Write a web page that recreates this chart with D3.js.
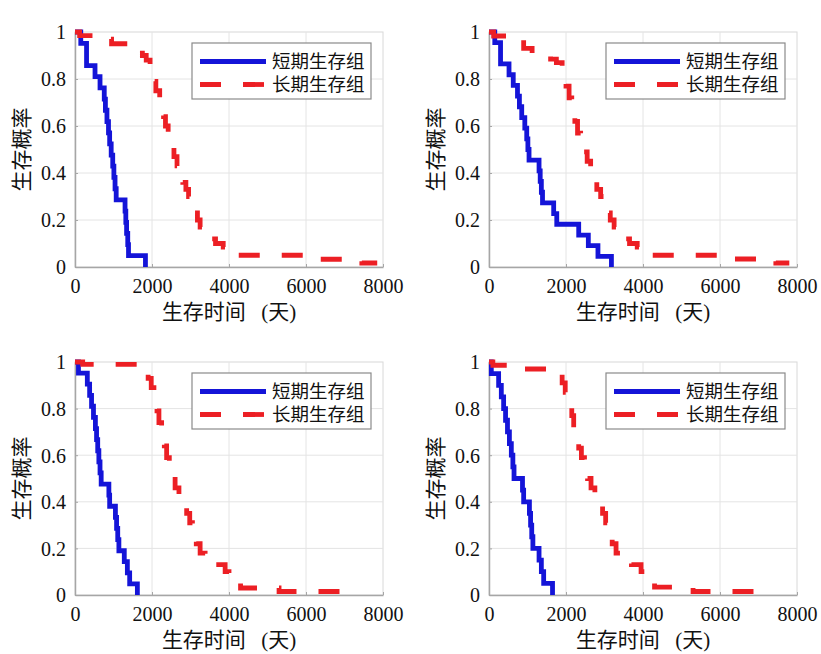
<!DOCTYPE html>
<html>
<head>
<meta charset="utf-8">
<script src="https://cdn.jsdelivr.net/npm/d3@7"></script>
<style>
  body { margin: 0; background: #fff; }
  svg { display: block; }
</style>
</head>
<body>
<svg id="chart" width="821" height="654"></svg>
<script>
// ---- axis ticks and labels ----
const xTicks = [0, 2000, 4000, 6000, 8000];
const yTicks = [0, 0.2, 0.4, 0.6, 0.8, 1];
const seriesNames = ["短期生存组", "长期生存组"];
const xTitleMain = "生存时间";
const xTitleUnit = "(天)";
const yTitle = "生存概率";

// ---- Kaplan-Meier steps: [days, survival]; a step holds until the next point ----
const shortA = [[0,1],[150,0.952],[300,0.857],[520,0.810],[650,0.762],[760,0.714],[790,0.667],
  [830,0.619],[870,0.571],[900,0.524],[940,0.476],[980,0.429],[1010,0.381],[1040,0.333],
  [1070,0.286],[1300,0.238],[1320,0.190],[1340,0.143],[1370,0.095],[1390,0.048],[1830,0]];
const longA = [[0,1],[120,0.985],[640,0.97],[950,0.95],[1520,0.93],[1750,0.90],[1850,0.88],
  [1950,0.84],[2050,0.79],[2100,0.75],[2200,0.70],[2300,0.64],[2350,0.60],[2420,0.55],
  [2500,0.51],[2570,0.47],[2650,0.43],[2720,0.40],[2800,0.36],[2880,0.33],[2950,0.30],
  [3020,0.27],[3100,0.23],[3180,0.20],[3250,0.17],[3330,0.15],[3450,0.12],[3650,0.10],
  [3850,0.085],[4050,0.07],[4250,0.05],[6300,0.033],[7450,0.017],[7850,0.017]];

const shortB = [[0,1],[150,0.955],[300,0.864],[520,0.818],[630,0.773],[740,0.727],[790,0.682],
  [850,0.636],[930,0.591],[980,0.545],[1010,0.5],[1040,0.455],[1300,0.409],[1330,0.364],
  [1360,0.318],[1390,0.273],[1680,0.227],[1760,0.182],[2330,0.136],[2580,0.091],[2830,0.045],[3180,0]];
const longB = [[0,1],[120,0.983],[620,0.967],[900,0.93],[1120,0.905],[1600,0.885],[1750,0.87],
  [1900,0.84],[2000,0.77],[2080,0.72],[2150,0.68],[2230,0.62],[2300,0.57],[2380,0.53],
  [2470,0.49],[2550,0.45],[2640,0.41],[2720,0.37],[2800,0.33],[2900,0.30],[2980,0.27],
  [3060,0.23],[3150,0.20],[3250,0.17],[3330,0.15],[3450,0.12],[3650,0.10],[3850,0.085],
  [4000,0.068],[4200,0.05],[6300,0.034],[7450,0.017],[7800,0.017]];

const shortC = [[0,1],[90,0.952],[320,0.905],[380,0.857],[430,0.810],[480,0.762],[530,0.714],
  [560,0.667],[590,0.619],[620,0.571],[650,0.524],[680,0.476],[880,0.429],[900,0.381],
  [1050,0.333],[1080,0.286],[1110,0.238],[1140,0.190],[1280,0.143],[1360,0.095],[1420,0.048],[1620,0]];
const longC = [[0,1],[200,0.99],[1780,0.975],[1900,0.93],[1980,0.89],[2050,0.85],[2130,0.79],
  [2180,0.74],[2250,0.70],[2320,0.64],[2380,0.59],[2450,0.55],[2520,0.51],[2600,0.46],
  [2700,0.43],[2800,0.40],[2900,0.35],[2980,0.31],[3050,0.27],[3150,0.22],[3250,0.18],
  [3380,0.15],[3600,0.13],[3900,0.10],[4000,0.07],[4300,0.03],[5300,0.015],[7100,0.015]];

const shortD = [[0,1],[60,0.95],[250,0.90],[320,0.85],[380,0.80],[430,0.75],[480,0.70],
  [530,0.65],[580,0.60],[620,0.55],[650,0.50],[870,0.45],[900,0.40],[1050,0.35],[1080,0.30],
  [1110,0.25],[1140,0.20],[1300,0.15],[1360,0.10],[1420,0.05],[1650,0]];
const longD = [[0,1],[100,0.986],[700,0.97],[1750,0.955],[1900,0.91],[1980,0.87],[2080,0.83],
  [2150,0.77],[2200,0.73],[2270,0.68],[2330,0.63],[2400,0.59],[2480,0.55],[2560,0.50],
  [2650,0.46],[2750,0.43],[2870,0.40],[2950,0.35],[3030,0.31],[3120,0.27],[3200,0.22],
  [3300,0.18],[3450,0.15],[3700,0.13],[3950,0.10],[4050,0.07],[4300,0.034],[5300,0.015],[7150,0.015]];

// ---- panel frames ----
const panels = [
  { left: 75,  top: 32,  width: 308, height: 235, short: shortA, long: longA },
  { left: 489, top: 32,  width: 308, height: 235, short: shortB, long: longB },
  { left: 75,  top: 362, width: 308, height: 233, short: shortC, long: longC },
  { left: 489, top: 362, width: 308, height: 233, short: shortD, long: longD }
];

const colors = { short: "#1414d8", long: "#ec1f24" };
const numFont = "Liberation Serif, Times New Roman, serif";
const cjkFont = "Noto Sans CJK SC, Noto Sans, sans-serif";

const svg = d3.select("#chart");

panels.forEach(p => {
  const x = d3.scaleLinear().domain([0, 8000]).range([p.left, p.left + p.width]);
  const y = d3.scaleLinear().domain([0, 1]).range([p.top + p.height, p.top]);
  const g = svg.append("g");

  // background and grid
  g.append("rect").attr("x", p.left).attr("y", p.top)
    .attr("width", p.width).attr("height", p.height)
    .attr("fill", "#fff").attr("stroke", "#d8d8d8").attr("stroke-width", 1);

  g.append("g").selectAll("line").data(xTicks.slice(1, -1)).join("line")
    .attr("x1", d => x(d)).attr("x2", d => x(d))
    .attr("y1", p.top).attr("y2", p.top + p.height)
    .attr("stroke", "#e4e4e4").attr("stroke-width", 1);
  g.append("g").selectAll("line").data(yTicks.slice(1, -1)).join("line")
    .attr("x1", p.left).attr("x2", p.left + p.width)
    .attr("y1", d => y(d)).attr("y2", d => y(d))
    .attr("stroke", "#e4e4e4").attr("stroke-width", 1);

  // axes
  const xAxis = g.append("g")
    .attr("transform", `translate(0,${p.top + p.height})`)
    .call(d3.axisBottom(x).tickValues(xTicks).tickSizeInner(-3).tickSizeOuter(0).tickPadding(12)
      .tickFormat(d3.format("d")));
  const yAxis = g.append("g")
    .attr("transform", `translate(${p.left},0)`)
    .call(d3.axisLeft(y).tickValues(yTicks).tickSizeInner(-3).tickSizeOuter(0).tickPadding(9)
      .tickFormat(d => d === 0 || d === 1 ? String(d) : d3.format(".1f")(d)));

  [xAxis, yAxis].forEach(a => {
    a.attr("font-family", numFont).attr("font-size", 20);
    a.select(".domain").attr("stroke", "#a6a6a6").attr("stroke-width", 1.5);
    a.selectAll(".tick line").attr("stroke", "#a6a6a6");
    a.selectAll(".tick text").attr("fill", "#111").attr("font-family", numFont);
  });
  xAxis.selectAll(".tick text").attr("dy", "0.72em");
  yAxis.selectAll(".tick text").attr("dy", "0.34em");

  // axis titles
  const xt = g.append("text")
    .attr("x", p.left + p.width / 2).attr("y", p.top + p.height + 52)
    .attr("text-anchor", "middle")
    .attr("font-family", cjkFont).attr("font-size", 21).attr("fill", "#111");
  xt.append("tspan").text(xTitleMain);
  xt.append("tspan").attr("dx", 10).attr("font-family", numFont).text(" " + xTitleUnit.charAt(0));
  xt.append("tspan").text(xTitleUnit.charAt(1));
  xt.append("tspan").attr("font-family", numFont).text(xTitleUnit.charAt(2));

  g.append("text")
    .attr("transform", `translate(${p.left - 46},${p.top + p.height / 2}) rotate(-90)`)
    .attr("text-anchor", "middle")
    .attr("font-family", cjkFont).attr("font-size", 21).attr("fill", "#111")
    .text(yTitle);

  // survival curves
  const line = d3.line().x(d => x(d[0])).y(d => y(d[1])).curve(d3.curveStepAfter);
  g.append("path").datum(p.short).attr("d", line)
    .attr("fill", "none").attr("stroke", colors.short).attr("stroke-width", 4.8)
    .attr("stroke-linejoin", "miter");
  g.append("path").datum(p.long).attr("d", line)
    .attr("fill", "none").attr("stroke", colors.long).attr("stroke-width", 4.8)
    .attr("stroke-dasharray", "21,22").attr("stroke-linejoin", "miter");

  // legend
  const lx = p.left + 117, ly = p.top + 11;
  const lg = g.append("g").attr("transform", `translate(${lx},${ly})`);
  lg.append("rect").attr("width", 179).attr("height", 56)
    .attr("fill", "#fff").attr("stroke", "#8a8a8a").attr("stroke-width", 1.2);
  [["short", 18.5], ["long", 41.5]].forEach(([key, yy], i) => {
    lg.append("line").attr("x1", 8).attr("x2", 74).attr("y1", yy).attr("y2", yy)
      .attr("stroke", colors[key]).attr("stroke-width", 4.8)
      .attr("stroke-dasharray", key === "long" ? "21,22" : null);
    lg.append("text").attr("x", 80).attr("y", yy).attr("dy", "0.36em")
      .attr("font-family", cjkFont).attr("font-size", 18.5).attr("fill", "#111")
      .text(seriesNames[i]);
  });
});
</script>
</body>
</html>
